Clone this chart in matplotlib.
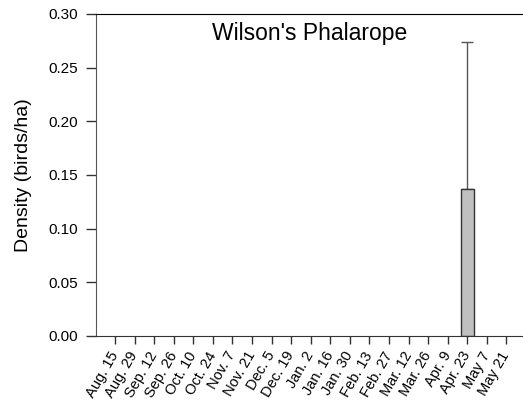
import matplotlib
matplotlib.use("Agg")
import matplotlib.pyplot as plt
import numpy as np

# survey dates and mean densities (birds/ha) with standard error
dates = ["Aug. 15", "Aug. 29", "Sep. 12", "Sep. 26", "Oct. 10", "Oct. 24",
         "Nov. 7", "Nov. 21", "Dec. 5", "Dec. 19", "Jan. 2", "Jan. 16",
         "Jan. 30", "Feb. 13", "Feb. 27", "Mar. 12", "Mar. 26", "Apr. 9",
         "Apr. 23", "May 7", "May 21"]
density = [0, 0, 0, 0, 0, 0, 0, 0, 0, 0, 0, 0, 0, 0, 0, 0, 0, 0,
           0.137, 0, 0]
se = [0, 0, 0, 0, 0, 0, 0, 0, 0, 0, 0, 0, 0, 0, 0, 0, 0, 0,
      0.137, 0, 0]

plt.rcParams['font.family'] = ['Liberation Sans', 'DejaVu Sans']

fig = plt.figure(figsize=(5.23, 4.11), dpi=100)
ax = fig.add_axes([0.1836, 0.1825, 0.8164, 0.7835])

x = np.arange(len(dates))
# no outline on the empty dates
edges = ["#333333" if d > 0 else "none" for d in density]
ax.bar(x, density, width=0.65, color="#c0c0c0", edgecolor=edges,
       linewidth=1.0, zorder=2)
# only the upper half of the error bar is drawn
err_x = [i for i in x if se[i] > 0]
ax.errorbar(err_x, [density[i] for i in err_x],
            yerr=[[0] * len(err_x), [se[i] for i in err_x]],
            fmt="none", ecolor="#555555", elinewidth=1.0, capsize=4.5,
            capthick=1.0, zorder=1)

ax.set_xlim(-0.97, 20.85)
ax.set_ylim(0, 0.30)
ax.set_yticks(np.arange(0, 0.31, 0.05))
ax.set_yticklabels(["%.2f" % v for v in np.arange(0, 0.31, 0.05)], fontsize=11)
ax.set_xticks(x)
ax.set_xticklabels(dates, rotation=60, ha="right", va="center",
                   rotation_mode="anchor", fontsize=10.5)
ax.tick_params(axis="both", direction="out", length=7, width=1.0,
               color="#333333")
ax.tick_params(axis="y", pad=6)
ax.tick_params(axis="x", length=6, pad=6)

ax.spines["right"].set_visible(False)
ax.spines["left"].set_color("#555555")
ax.spines["top"].set_color("black")
ax.spines["bottom"].set_color("#333333")

ax.set_ylabel("Density (birds/ha)", fontsize=14, labelpad=12)
ax.text(0.5, 0.94, "Wilson's Phalarope", transform=ax.transAxes,
        ha="center", va="center", fontsize=16.5)

fig.savefig("out.png", dpi=100)
